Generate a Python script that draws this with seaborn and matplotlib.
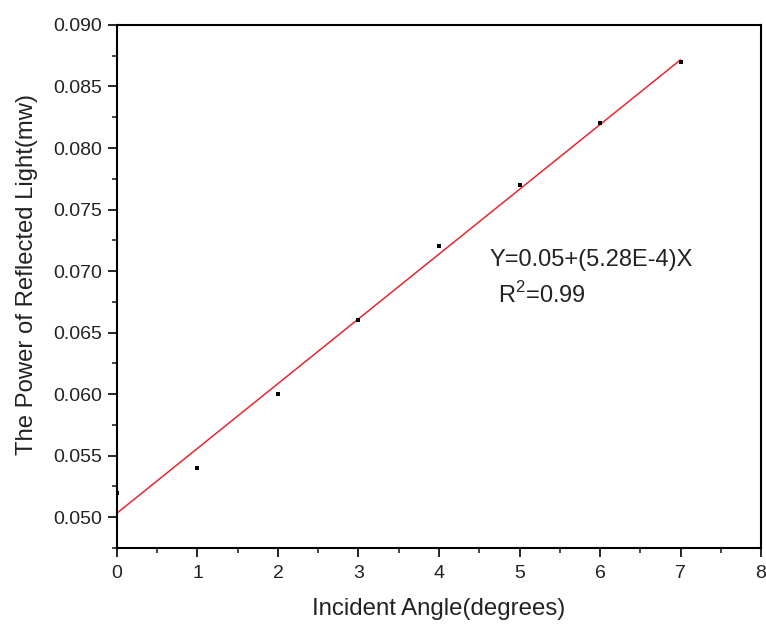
import numpy as np
import pandas as pd
import matplotlib
matplotlib.use("Agg")
import matplotlib.pyplot as plt
from matplotlib.ticker import MultipleLocator, FormatStrFormatter
import seaborn as sns

# Measured reflected power vs. incident angle
angle_deg = [0, 1, 2, 3, 4, 5, 6, 7]
power_mw = [0.052, 0.054, 0.060, 0.066, 0.072, 0.077, 0.082, 0.087]

x_ticks = [0, 1, 2, 3, 4, 5, 6, 7, 8]
y_ticks = [0.050, 0.055, 0.060, 0.065, 0.070, 0.075, 0.080, 0.085, 0.090]

fit_label = "Y=0.05+(5.28E-4)X"
r2_label = r"R$^\mathregular{2}$=0.99"

df = pd.DataFrame({"angle": angle_deg, "power": power_mw})

sns.set_theme(style="ticks")
plt.rcParams["font.family"] = ["Liberation Sans", "DejaVu Sans"]
plt.rcParams["mathtext.fontset"] = "custom"
plt.rcParams["mathtext.rm"] = "Liberation Sans"

fig = plt.figure(figsize=(7.66, 6.24), dpi=100)
ax = fig.add_axes([0.1527, 0.1218, 0.8408, 0.8382])

# Linear fit line over the measured range
sns.regplot(data=df, x="angle", y="power", ax=ax, ci=None, truncate=True,
            scatter=False, line_kws={"color": "#e8262b", "linewidth": 1.1})
# Data points as small black squares
sns.scatterplot(data=df, x="angle", y="power", ax=ax, marker="s", s=7,
                color="black", edgecolor="black", linewidth=0, zorder=3)

ax.set_xlim(0, 8)
ax.set_ylim(0.0475, 0.090)
ax.set_xticks(x_ticks)
ax.set_yticks(y_ticks)
ax.yaxis.set_major_formatter(FormatStrFormatter("%.3f"))
ax.xaxis.set_minor_locator(MultipleLocator(0.5))
ax.yaxis.set_minor_locator(MultipleLocator(0.0025))

for side in ["left", "bottom", "top", "right"]:
    ax.spines[side].set_visible(True)
    ax.spines[side].set_linewidth(1.5)
    ax.spines[side].set_color("black")

ax.tick_params(axis="both", which="major", direction="out", length=6.5,
               width=1.2, labelsize=14, colors="black", labelcolor="#222222")
ax.tick_params(axis="x", which="major", pad=6)
ax.tick_params(axis="y", which="major", pad=4.5)
ax.tick_params(axis="both", which="minor", direction="out", length=3.5, width=1.2)
ax.tick_params(top=False, right=False, which="both")

ax.set_xlabel("Incident Angle(degrees)", fontsize=17.3, color="#222222", labelpad=11)
ax.set_ylabel("The Power of Reflected Light(mw)", fontsize=17.2, color="#222222")
ax.yaxis.set_label_coords(-0.123, 0.522)

ax.text(4.63, 0.0709, fit_label, fontsize=17, color="#222222", va="center", ha="left")
ax.text(4.73, 0.0681, r2_label, fontsize=17, color="#222222", va="center", ha="left")

fig.savefig("out.png", dpi=100, facecolor="white")
